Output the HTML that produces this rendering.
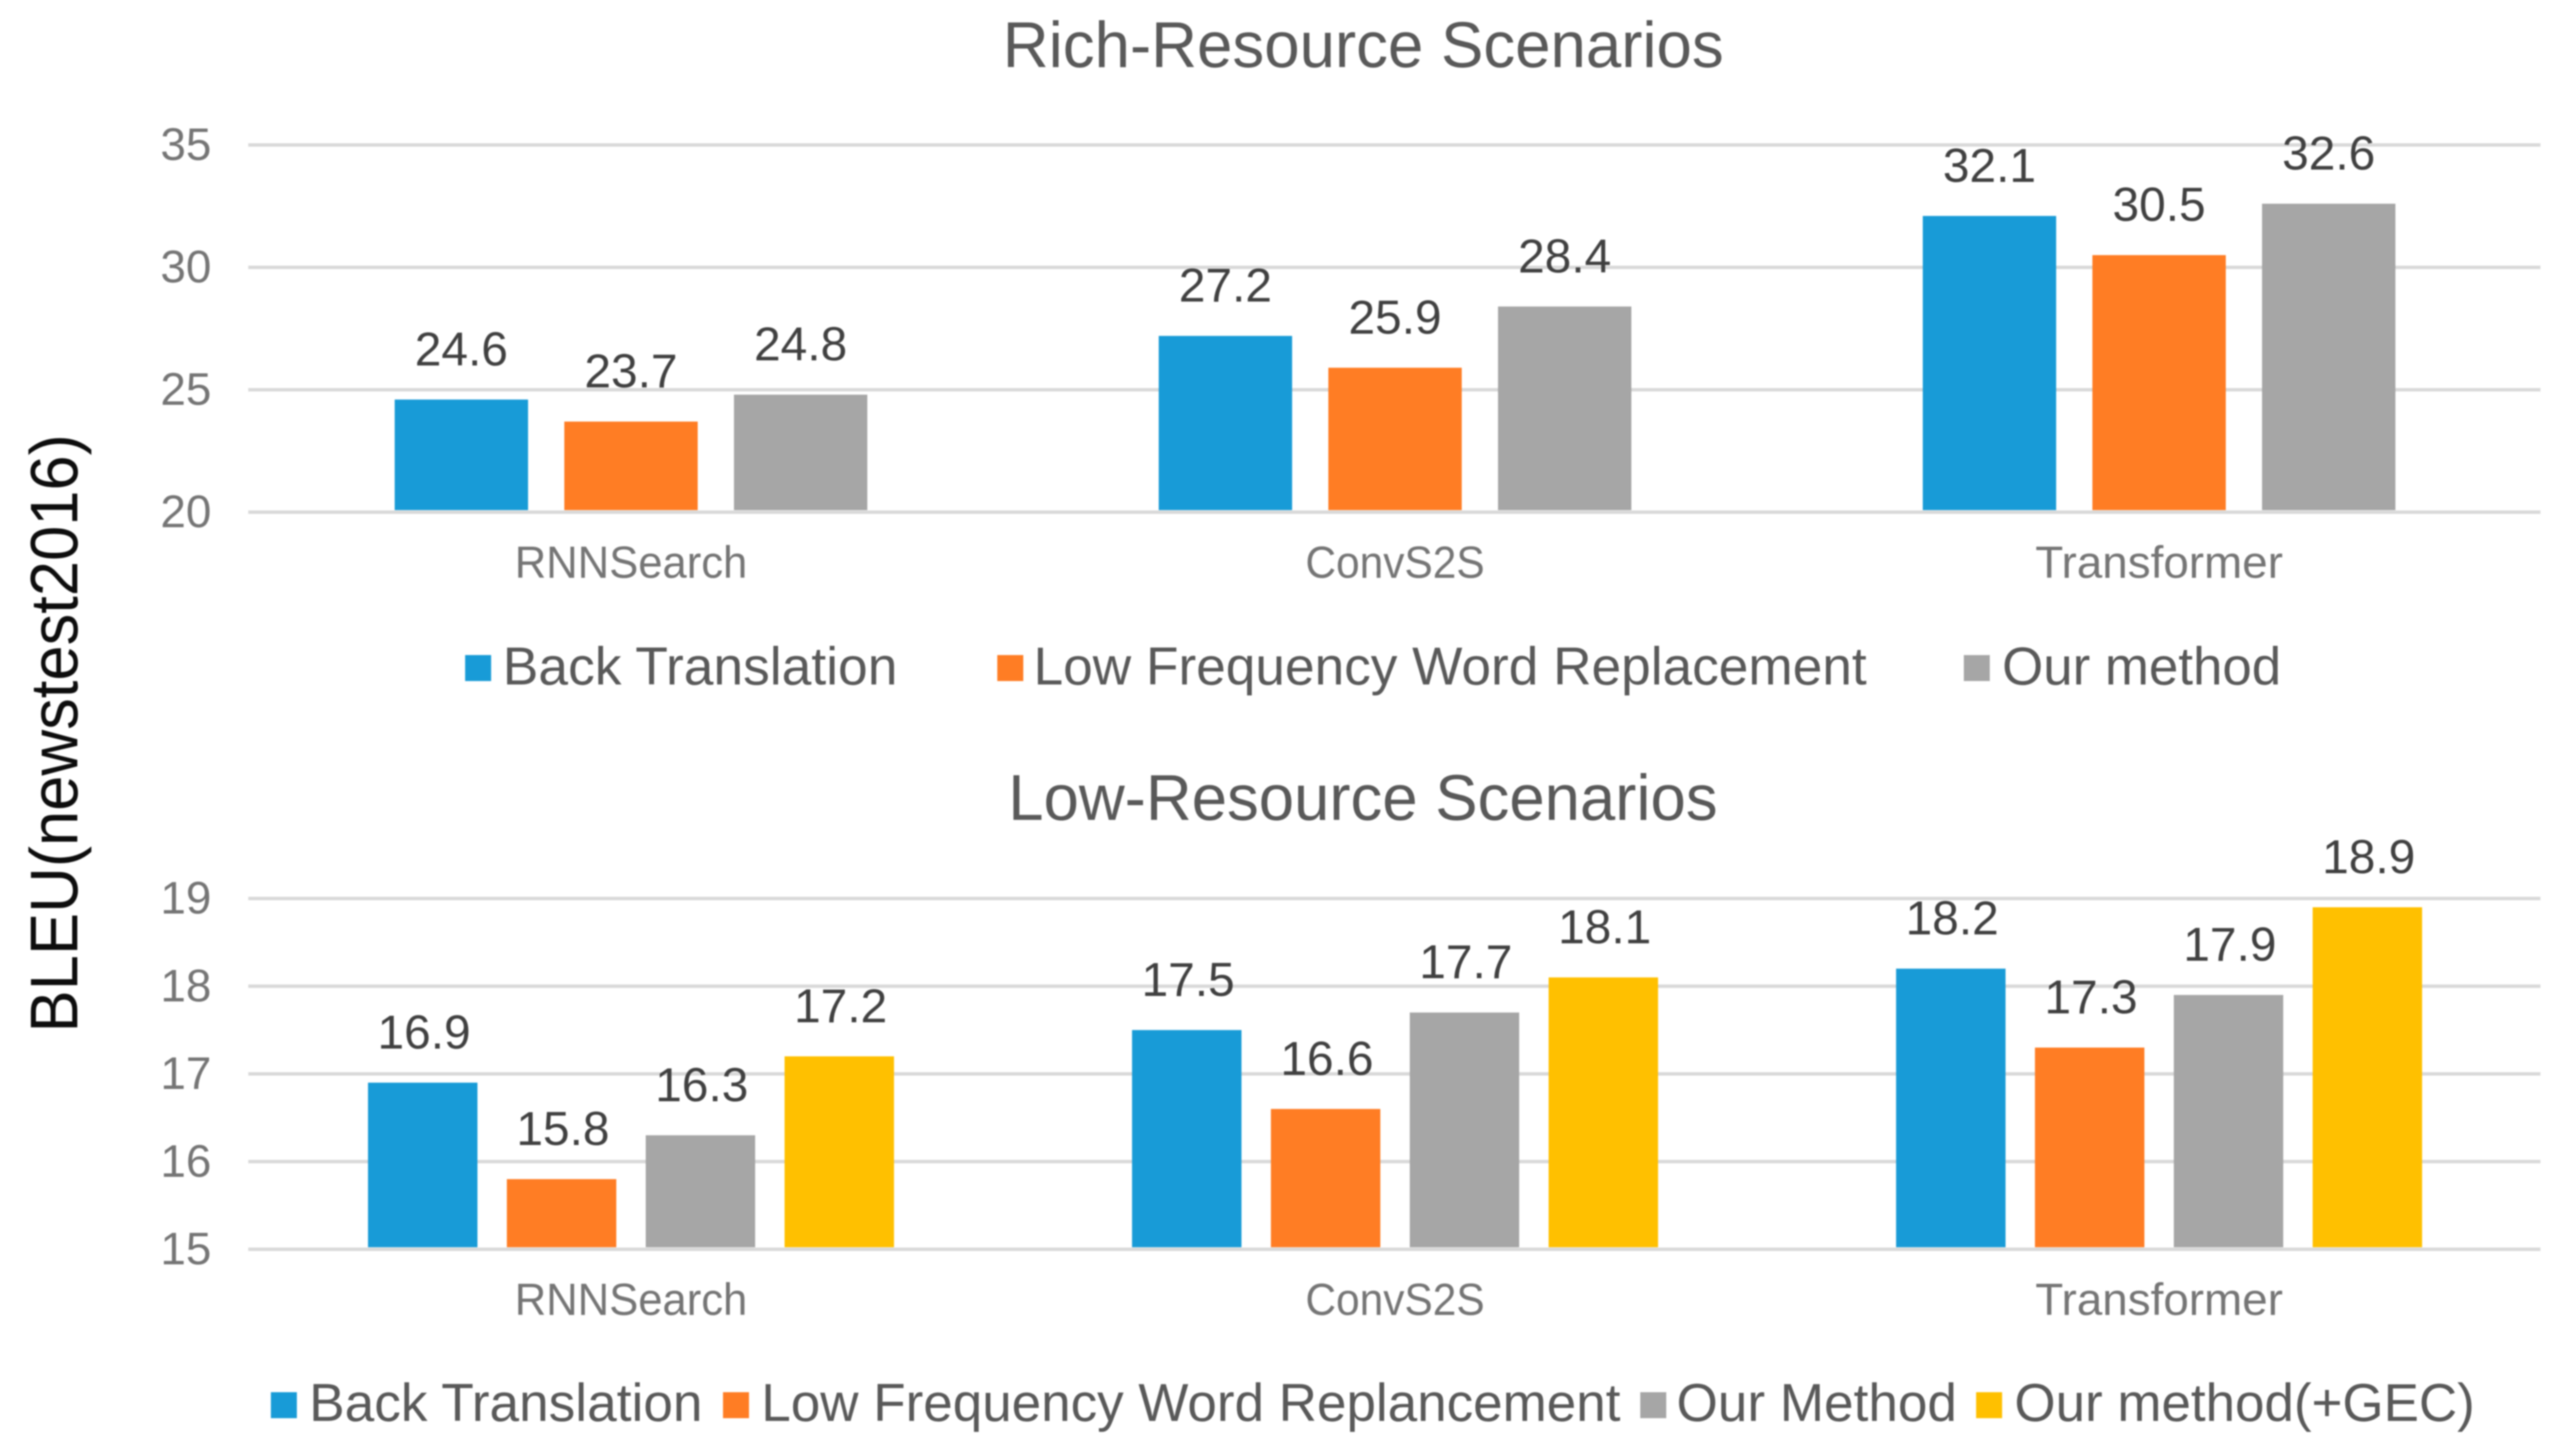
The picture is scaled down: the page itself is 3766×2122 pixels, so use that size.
<!DOCTYPE html>
<html lang="en">
<head>
<meta charset="utf-8">
<title>BLEU Rich- and Low-Resource Scenarios</title>
<style>
html,body{margin:0;padding:0;background:#fff;}
svg{display:block;font-family:"Liberation Sans",Arial,sans-serif;filter:blur(1px);}
</style>
</head>
<body>
<svg id="chart" xmlns="http://www.w3.org/2000/svg" width="3766" height="2122" viewBox="0 0 3766 2122">
<rect x="0" y="0" width="3766" height="2122" fill="#ffffff"/>
<text transform="translate(113,1510) rotate(-90)" font-size="98" fill="#0d0d0d" textLength="875" lengthAdjust="spacingAndGlyphs">BLEU(newstest2016)</text>
<text x="1466" y="98" font-size="95" fill="#595959" textLength="1054" lengthAdjust="spacingAndGlyphs">Rich-Resource Scenarios</text>
<text x="1474" y="1199" font-size="95" fill="#595959" textLength="1037" lengthAdjust="spacingAndGlyphs">Low-Resource Scenarios</text>
<g id="rich-plot"></g>
<g id="low-plot"></g>
<g font-size="78" fill="#595959">
<g><rect x="680" y="958" width="38" height="38" fill="#189BD7"/><text x="735" y="1001" textLength="577" lengthAdjust="spacingAndGlyphs">Back Translation</text></g>
<g><rect x="1458" y="958" width="38" height="38" fill="#FF7D24"/><text x="1511" y="1001" textLength="1218" lengthAdjust="spacingAndGlyphs">Low Frequency Word Replacement</text></g>
<g><rect x="2871" y="958" width="38" height="38" fill="#A6A6A6"/><text x="2927" y="1001" textLength="408" lengthAdjust="spacingAndGlyphs">Our method</text></g>
</g>
<g font-size="78" fill="#595959">
<g><rect x="396" y="2036" width="38" height="38" fill="#189BD7"/><text x="452" y="2078" textLength="575" lengthAdjust="spacingAndGlyphs">Back Translation</text></g>
<g><rect x="1057" y="2036" width="38" height="38" fill="#FF7D24"/><text x="1113" y="2078" textLength="1256" lengthAdjust="spacingAndGlyphs">Low Frequency Word Replancement</text></g>
<g><rect x="2398" y="2036" width="38" height="38" fill="#A6A6A6"/><text x="2451" y="2078" textLength="410" lengthAdjust="spacingAndGlyphs">Our Method</text></g>
<g><rect x="2889" y="2036" width="38" height="38" fill="#FFC000"/><text x="2945" y="2078" textLength="673" lengthAdjust="spacingAndGlyphs">Our method(+GEC)</text></g>
</g>
</svg>
<script>
var categories = ['RNNSearch', 'ConvS2S', 'Transformer'];
var richTicks = [20, 25, 30, 35];
var lowTicks = [15, 16, 17, 18, 19];
var richBackTranslation = [24.6, 27.2, 32.1];
var richLowFrequency = [23.7, 25.9, 30.5];
var richOurMethod = [24.8, 28.4, 32.6];
var lowBackTranslation = [16.9, 17.5, 18.2];
var lowLowFrequency = [15.8, 16.6, 17.3];
var lowOurMethod = [16.3, 17.7, 17.9];
var lowOurMethodGec = [17.2, 18.1, 18.9];

var NS = 'http://www.w3.org/2000/svg';
var COLORS = ['#189BD7', '#FF7D24', '#A6A6A6', '#FFC000'];
var PLOT_LEFT = 363;
var PLOT_RIGHT = 3714;

function bandCenter(i) {
  var band = (PLOT_RIGHT - PLOT_LEFT) / categories.length;
  return PLOT_LEFT + band * (i + 0.5) + 1;
}

// Horizontal squeeze/stretch that matches the reference's label widths.
function categoryLabelLength(name) {
  var lengths = {RNNSearch: 340, ConvS2S: 262, Transformer: 362};
  return lengths[name];
}

function make(tag, attrs, parent) {
  var el = document.createElementNS(NS, tag);
  for (var k in attrs) el.setAttribute(k, attrs[k]);
  parent.appendChild(el);
  return el;
}

function slug(s) {
  return String(s).toLowerCase().replace(/[^a-z0-9]+/g, '-');
}

function drawPlot(parent, prefix, ticks, series, cfg) {
  function yScale(v) {
    var min = ticks[0];
    var max = ticks[ticks.length - 1];
    return cfg.yBottom - (v - min) / (max - min) * (cfg.yBottom - cfg.yTop);
  }
  function barX(catIndex, seriesIndex) {
    var offset = (seriesIndex - (series.length - 1) / 2) * cfg.step;
    return bandCenter(catIndex) + offset - cfg.barWidth / 2;
  }
  ticks.forEach(function (t) {
    var line = make('line', {x1: PLOT_LEFT, x2: PLOT_RIGHT, y1: yScale(t), y2: yScale(t), stroke: '#d9d9d9', 'stroke-width': 5}, parent);
    
    
    var label = make('text', {x: 309, y: yScale(t) + 22, 'text-anchor': 'end', 'font-size': 67, fill: '#757575'}, parent);
    label.textContent = t;
    
    
  });
  series.forEach(function (values, s) {
    values.forEach(function (v, c) {
      var top = yScale(v);
      var x = barX(c, s);
      var bar = make('rect', {x: x + cfg.barDx, y: top, width: cfg.barWidth, height: cfg.yBottom - 3 - top, fill: COLORS[s]}, parent);
      
      
      var label = make('text', {x: x + cfg.barWidth / 2 + cfg.labelDx, y: top - 50, 'text-anchor': 'middle', 'font-size': 70, fill: '#404040'}, parent);
      label.textContent = v.toFixed(1);
      
      
    });
  });
  categories.forEach(function (name, c) {
    var label = make('text', {x: bandCenter(c), y: cfg.catBaseline, 'text-anchor': 'middle', 'font-size': 66, fill: '#757575', textLength: categoryLabelLength(name), lengthAdjust: 'spacingAndGlyphs'}, parent);
    label.textContent = name;
    
    
  });
}

drawPlot(document.getElementById('rich-plot'), 'rich', richTicks,
  [richBackTranslation, richLowFrequency, richOurMethod],
  {yTop: 212, yBottom: 749, barWidth: 195, step: 248, catBaseline: 845, labelDx: 0, barDx: 0});

drawPlot(document.getElementById('low-plot'), 'low', lowTicks,
  [lowBackTranslation, lowLowFrequency, lowOurMethod, lowOurMethodGec],
  {yTop: 1314, yBottom: 1827, barWidth: 160, step: 203, catBaseline: 1923, labelDx: 2, barDx: 0});
</script>
</body>
</html>
